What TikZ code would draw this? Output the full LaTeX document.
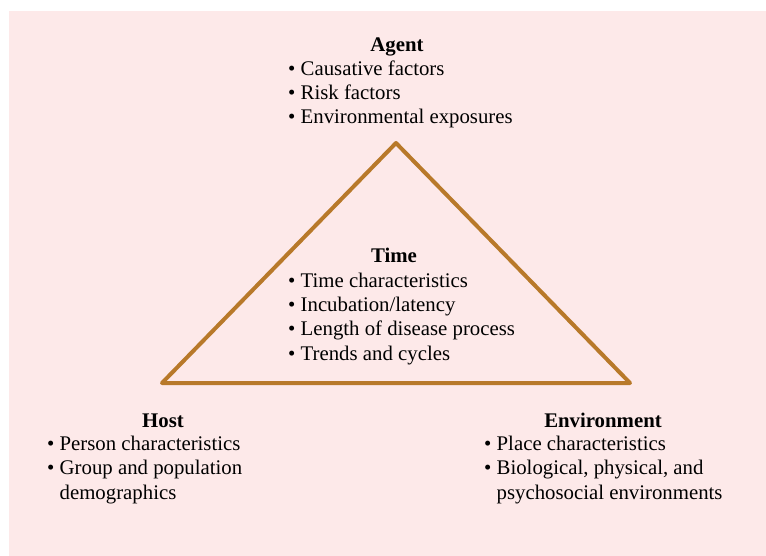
\documentclass[tikz,border=0pt]{standalone}
\usepackage{fontspec}
\setmainfont{Liberation Serif}
\definecolor{triangle}{RGB}{184,121,42}
\definecolor{bgpink}{RGB}{253,233,233}
\newcommand{\bul}{\textbullet\ }
\newcommand{\cont}{\phantom{\textbullet\ }}

\begin{document}
\begin{tikzpicture}[x=1pt,y=-1pt,
		head/.style={font=\fontsize{20.8}{24}\selectfont\bfseries,inner sep=0pt,anchor=base},
		items/.style={font=\fontsize{20.8}{24.3}\selectfont,align=left,inner sep=0pt,anchor=base west},
		side/.style={draw=triangle,line width=4pt,line join=round}]

		\useasboundingbox (0,0) rectangle (766,556);
		\fill[bgpink] (9,11) rectangle (766,556);

		% corners of the triangle
		\coordinate (apex) at (396,143);
		\coordinate (left) at (162,383);
		\coordinate (right) at (630,383);
		\draw[side] (apex) -- (left) -- (right) -- cycle;

		% top (lists are placed by their last line)
		\node[head](agent) at (397,52) {Agent};
		\node[items](agentlist) at (288,124) {\bul Causative factors\\ \bul Risk factors\\ \bul Environmental exposures};

		% middle
		\node[head](time) at (394,262) {Time};
		\node[items](timelist) at (288,360) {\bul Time characteristics\\ \bul Incubation/latency\\ \bul Length of disease process\\ \bul Trends and cycles};

		% bottom left
		\node[head](host) at (163,427) {Host};
		\node[items](hostlist) at (47,499) {\bul Person characteristics\\ \bul Group and population\\ \cont demographics};

		% bottom right
		\node[head](env) at (603,427) {Environment};
		\node[items](envlist) at (484,499) {\bul Place characteristics\\ \bul Biological, physical, and\\ \cont psychosocial environments};

	\end{tikzpicture}
\end{document}
